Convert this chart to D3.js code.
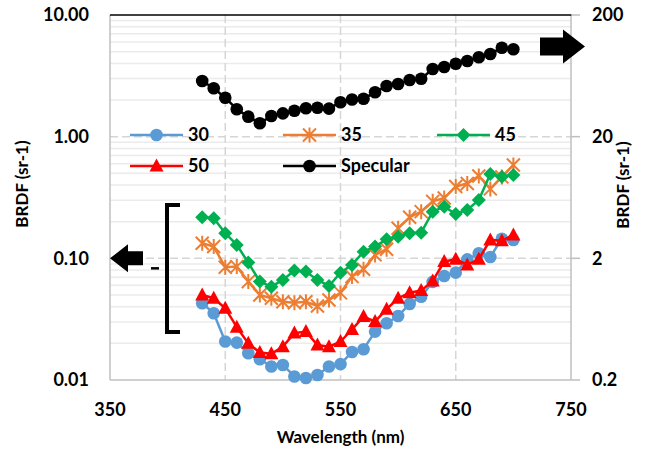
<!DOCTYPE html>
<html>
<head>
<meta charset="utf-8">
<script src="https://cdn.jsdelivr.net/npm/d3@7"></script>
<style>
  body { margin: 0; background: #fff; }
  svg text { font-family: Lato, "Open Sans", sans-serif; font-weight: 700; fill: #000; }
</style>
</head>
<body>
<svg id="chart" width="647" height="451"></svg>
<script>
// wavelengths (nm)
const wavelengths = [430,440,450,460,470,480,490,500,510,520,530,540,550,560,570,580,590,600,610,620,630,640,650,660,670,680,690,700];

// BRDF (sr-1), left axis
const s30 = [0.0428,0.0354,0.0207,0.0203,0.0166,0.0148,0.0129,0.0133,0.0107,0.0104,0.0110,0.0129,0.0135,0.0170,0.0179,0.0250,0.0293,0.0336,0.0422,0.0484,0.0640,0.0716,0.0763,0.098,0.110,0.1027,0.145,0.1416];
const s35 = [0.133,0.125,0.0845,0.0855,0.0644,0.050,0.047,0.044,0.0432,0.044,0.0406,0.0455,0.052,0.0710,0.0813,0.1067,0.1188,0.1767,0.2178,0.242,0.294,0.313,0.390,0.412,0.475,0.372,0.467,0.585];
const s45 = [0.218,0.214,0.161,0.129,0.0922,0.0644,0.0585,0.0665,0.0793,0.0778,0.0665,0.0593,0.0763,0.0883,0.1135,0.125,0.1437,0.1508,0.1607,0.1626,0.242,0.266,0.2317,0.250,0.302,0.494,0.469,0.484];
const s50 = [0.050,0.047,0.0389,0.0272,0.0200,0.0168,0.0164,0.0188,0.0243,0.0250,0.0194,0.0188,0.0207,0.0260,0.0332,0.0302,0.0382,0.0470,0.0522,0.0543,0.0652,0.0940,0.0984,0.0883,0.0984,0.1417,0.1397,0.1557];
// specular, right axis
const specular = [57.4,50.0,41.8,33.6,29.2,25.8,29.6,31.1,32.7,34.2,34.6,34.0,38.4,40.4,41.0,46.3,52.2,54.2,58.5,59.9,72.0,74.8,79.6,83.8,89.8,95.7,107.7,104.5];

const xTicks = [350,450,550,650,750];
const yLeftTicks = [0.01,0.1,1,10];
const yRightTicks = [0.2,2,20,200];

const svg = d3.select('#chart');
const plotLeft = 110, plotRight = 571, plotTop = 15, plotBottom = 380;

const x = d3.scaleLinear().domain([350,750]).range([plotLeft,plotRight]);
const yL = d3.scaleLog().domain([0.01,10]).range([plotBottom,plotTop]);
const yR = d3.scaleLog().domain([0.2,200]).range([plotBottom,plotTop]);

// minor horizontal grid
const minor = [];
[0.01,0.1,1].forEach(d => { for (let k = 2; k <= 9; k++) minor.push(d*k); });
svg.append('g').selectAll('line').data(minor).enter().append('line')
  .attr('x1', plotLeft).attr('x2', plotRight)
  .attr('y1', d => yL(d)).attr('y2', d => yL(d))
  .attr('stroke', '#ebebeb').attr('stroke-width', 1.5);

// major dashed grid
svg.append('g').selectAll('line').data([0.1,1]).enter().append('line')
  .attr('x1', plotLeft).attr('x2', plotRight)
  .attr('y1', d => yL(d)).attr('y2', d => yL(d))
  .attr('stroke', '#d6d6d6').attr('stroke-width', 1.5).attr('stroke-dasharray', '8,4');
svg.append('g').selectAll('line').data([450,550,650]).enter().append('line')
  .attr('x1', d => x(d)).attr('x2', d => x(d))
  .attr('y1', plotTop).attr('y2', plotBottom)
  .attr('stroke', '#d6d6d6').attr('stroke-width', 1.5).attr('stroke-dasharray', '8,4');

// axis lines
svg.append('line').attr('x1', plotLeft).attr('x2', plotLeft).attr('y1', plotTop).attr('y2', plotBottom)
  .attr('stroke', '#bfbfbf').attr('stroke-width', 1.5);
svg.append('line').attr('x1', plotRight).attr('x2', plotRight).attr('y1', plotTop).attr('y2', plotBottom)
  .attr('stroke', '#bfbfbf').attr('stroke-width', 1.5);
svg.append('line').attr('x1', plotLeft).attr('x2', plotRight).attr('y1', plotBottom).attr('y2', plotBottom)
  .attr('stroke', '#bfbfbf').attr('stroke-width', 1.5);
svg.append('line').attr('x1', plotLeft).attr('x2', plotRight + 1).attr('y1', plotTop).attr('y2', plotTop)
  .attr('stroke', '#000').attr('stroke-width', 1.5);
// right ticks
svg.append('g').selectAll('line').data(yRightTicks).enter().append('line')
  .attr('x1', plotRight).attr('x2', plotRight + 9)
  .attr('y1', d => yR(d)).attr('y2', d => yR(d))
  .attr('stroke', '#bfbfbf').attr('stroke-width', 1.5);

// tick labels
svg.append('g').selectAll('text').data(yLeftTicks).enter().append('text')
  .attr('x', 89).attr('y', d => yL(d)).attr('dy', '0.35em')
  .attr('text-anchor', 'end').style('font-size', '18px')
  .text(d => d3.format('.2f')(d));
svg.append('g').selectAll('text').data(yRightTicks).enter().append('text')
  .attr('x', 592).attr('y', d => yR(d)).attr('dy', '0.35em')
  .attr('text-anchor', 'start').style('font-size', '18px')
  .text(d => d);
svg.append('g').selectAll('text').data(xTicks).enter().append('text')
  .attr('x', d => x(d)).attr('y', 410).attr('dy', '0.35em')
  .attr('text-anchor', 'middle').style('font-size', '18px')
  .text(d => d);

// axis titles
svg.append('text').attr('transform', 'translate(28,184) rotate(-90)')
  .attr('text-anchor', 'middle').style('font-size', '17px').text('BRDF (sr-1)');
svg.append('text').attr('transform', 'translate(629,185) rotate(-90)')
  .attr('text-anchor', 'middle').style('font-size', '17px').text('BRDF (sr-1)');
svg.append('text').attr('x', (plotLeft + plotRight) / 2).attr('y', 443)
  .attr('text-anchor', 'middle').style('font-size', '17px').text('Wavelength (nm)');

// markers
function marker(g, type, color, cx, cy) {
  if (type === 'circle') {
    g.append('circle').attr('cx', cx).attr('cy', cy).attr('r', 6.3).attr('fill', color);
  } else if (type === 'diamond') {
    g.append('path').attr('d', `M${cx},${cy-7}L${cx+7},${cy}L${cx},${cy+7}L${cx-7},${cy}Z`).attr('fill', color);
  } else if (type === 'triangle') {
    g.append('path').attr('d', `M${cx},${cy-7.5}L${cx+7},${cy+5.5}L${cx-7},${cy+5.5}Z`).attr('fill', color);
  } else if (type === 'star') {
    const r = 6.5;
    g.append('path')
      .attr('d', `M${cx-r},${cy-r}L${cx+r},${cy+r}M${cx-r},${cy+r}L${cx+r},${cy-r}M${cx},${cy-r-1}L${cx},${cy+r+1}`)
      .attr('stroke', color).attr('stroke-width', 2).attr('fill', 'none');
  }
}

const series = [
  { name: '30', values: s30, color: '#5b9bd5', type: 'circle', axis: yL },
  { name: '35', values: s35, color: '#ed7d31', type: 'star', axis: yL },
  { name: '45', values: s45, color: '#00b050', type: 'diamond', axis: yL },
  { name: '50', values: s50, color: '#ff0000', type: 'triangle', axis: yL },
  { name: 'Specular', values: specular, color: '#000000', type: 'circle', axis: yR }
];

series.forEach(s => {
  const g = svg.append('g');
  const line = d3.line().x((d, i) => x(wavelengths[i])).y(d => s.axis(d));
  g.append('path').attr('d', line(s.values)).attr('fill', 'none')
    .attr('stroke', s.color).attr('stroke-width', 2.5);
  s.values.forEach((v, i) => marker(g, s.type, s.color, x(wavelengths[i]), s.axis(v)));
});

// legend
const legendPos = [[130,135],[283,135],[437,135],[130,166],[283,166]];
series.forEach((s, i) => {
  const [lx, ly] = legendPos[i];
  const g = svg.append('g');
  g.append('line').attr('x1', lx).attr('x2', lx + 53).attr('y1', ly).attr('y2', ly)
    .attr('stroke', s.color).attr('stroke-width', 2.5);
  marker(g, s.type, s.color, lx + 26.5, ly);
  g.append('text').attr('x', lx + 58).attr('y', ly).attr('dy', '0.35em')
    .style('font-size', '18px').text(s.name);
});

// annotation arrows
const ay = yL(0.1);
svg.append('path')
  .attr('d', `M${plotLeft},${ay}L${plotLeft+18},${ay-14}L${plotLeft+18},${ay-7}L${plotLeft+33},${ay-7}L${plotLeft+33},${ay+7}L${plotLeft+18},${ay+7}L${plotLeft+18},${ay+14}Z`)
  .attr('fill', '#000');
svg.append('line').attr('x1', plotLeft + 41).attr('x2', plotLeft + 49).attr('y1', ay + 10).attr('y2', ay + 10)
  .attr('stroke', '#000').attr('stroke-width', 2.5);
svg.append('path').attr('d', `M180,205L167,205L167,332L180,332`)
  .attr('fill', 'none').attr('stroke', '#000').attr('stroke-width', 4);

const ry = yR(110);
svg.append('path')
  .attr('d', `M540,${ry-9}L563,${ry-9}L563,${ry-17}L585,${ry}L563,${ry+17}L563,${ry+9}L540,${ry+9}Z`)
  .attr('fill', '#000');
</script>
</body>
</html>
